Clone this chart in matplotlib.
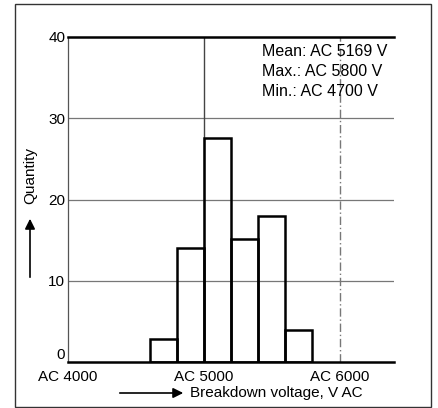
import matplotlib
matplotlib.use("Agg")
import matplotlib.pyplot as plt
from matplotlib.patches import Rectangle, FancyArrowPatch

plt.rcParams['font.family'] = ['Liberation Sans', 'DejaVu Sans']

# Data
bin_edges = [4600, 4800, 5000, 5200, 5400, 5600]
bin_width = 200
quantities = [2.8, 14.0, 27.6, 15.1, 18.0, 4.0]
x_ticks = [4000, 5000, 6000]
x_tick_labels = ["AC 4000", "AC 5000", "AC 6000"]
y_ticks = [0, 10, 20, 30, 40]
stats_lines = ["Mean: AC 5169 V", "Max.: AC 5800 V", "Min.: AC 4700 V"]
xlabel = "Breakdown voltage, V AC"
ylabel = "Quantity"

W, H = 438, 408
fig = plt.figure(figsize=(W / 100, H / 100), dpi=100)
fig.patch.set_facecolor("white")

# outer frame
fig.patches.append(Rectangle((15 / W, 1 - 407 / H), (431 - 15) / W, (407 - 4) / H,
                             transform=fig.transFigure, fill=False,
                             edgecolor="#333333", linewidth=1.0))

ax = fig.add_axes([68 / W, 1 - 362 / H, (394 - 68) / W, (362 - 37) / H])
ax.set_xlim(4000, 6400)
ax.set_ylim(0, 40)

# grid
for yv in [10, 20, 30]:
    ax.axhline(yv, color="#777777", lw=0.9, zorder=1)
ax.axvline(5000, color="#444444", lw=1.0, zorder=1)
ax.axvline(6000, color="#777777", lw=1.0, ls=(0, (6, 2, 1, 2)), zorder=1)

ax.bar(bin_edges, quantities, width=bin_width, align="edge",
       facecolor="none", edgecolor="black", linewidth=1.8, zorder=2)

ax.spines["right"].set_visible(False)
ax.spines["top"].set_linewidth(1.8)
ax.spines["bottom"].set_linewidth(1.8)
ax.spines["left"].set_linewidth(0.9)
ax.spines["left"].set_color("#555555")

ax.set_xticks(x_ticks)
ax.set_xticklabels(x_tick_labels)
ax.set_yticks(y_ticks)
ax.tick_params(axis="both", length=0, labelsize=11, colors="black")
ax.tick_params(axis="x", pad=6)
ax.tick_params(axis="y", pad=2)
ax.get_yticklabels()[0].set_verticalalignment("bottom")

for i, line in enumerate(stats_lines):
    ax.text((262 - 68) / 326, (362 - 52 - 20 * i) / 325, line,
            transform=ax.transAxes, ha="left", va="center", fontsize=11.5)

# x label with arrow
fig.text(190 / W, 1 - 393 / H, xlabel, ha="left", va="center", fontsize=11)
fig.add_artist(FancyArrowPatch(
    (117 / W, 1 - 393 / H), (186 / W, 1 - 393 / H), transform=fig.transFigure,
    arrowstyle="-|>,head_length=4,head_width=2", mutation_scale=1.5,
    color="black", lw=1.2))

# y label with arrow
fig.text(30 / W, 1 - 176 / H, ylabel, ha="center", va="center",
         rotation=90, fontsize=11)
fig.add_artist(FancyArrowPatch(
    (30 / W, 1 - 280 / H), (30 / W, 1 - 216 / H), transform=fig.transFigure,
    arrowstyle="-|>,head_length=4,head_width=2", mutation_scale=1.5,
    color="black", lw=1.2))

fig.savefig("out.png", dpi=100)
